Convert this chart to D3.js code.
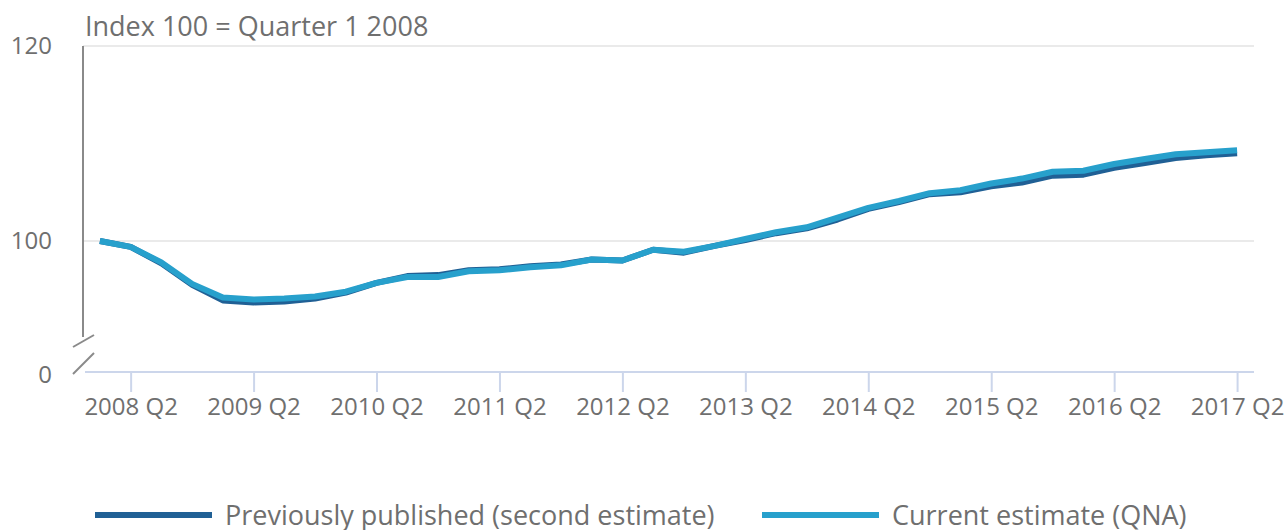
<!DOCTYPE html>
<html lang="en">
<head>
    <meta charset="UTF-8">
    <title>Index 100 = Quarter 1 2008</title>
    <script src="https://d3js.org/d3.v7.min.js"></script>
    <style>
        body { margin: 0; background: #fff; font-family: "Open Sans", sans-serif; }
        svg text { fill: #6f6f6f; }
    </style>
</head>
<body>
<svg id="chart" width="1288" height="530"></svg>
<script>
    const quarters = [];
    for (let yr = 2008; yr <= 2017; yr++) {
        ["Q1", "Q2", "Q3", "Q4"].forEach(q => quarters.push(`${yr} ${q}`));
    }
    quarters.splice(quarters.indexOf("2017 Q2") + 1);

    const previous = [
        100.0, 99.4, 97.7, 95.5,
        93.9, 93.7, 93.8, 94.1,
        94.7, 95.7, 96.4, 96.5,
        97.0, 97.1, 97.4, 97.6,
        98.1, 98.0, 99.1, 98.8,
        99.5, 100.1, 100.8, 101.3,
        102.2, 103.3, 104.0, 104.8,
        105.0, 105.6, 106.0, 106.7,
        106.8, 107.5, 108.0, 108.5,
        108.8, 109.0
    ];
    const current = [
        100.0, 99.4, 97.8, 95.6,
        94.2, 94.0, 94.1, 94.3,
        94.8, 95.7, 96.3, 96.3,
        96.9, 97.0, 97.3, 97.5,
        98.1, 98.0, 99.1, 98.9,
        99.5, 100.2, 100.9, 101.4,
        102.4, 103.4, 104.1, 104.9,
        105.2, 105.9, 106.4, 107.1,
        107.2, 107.9, 108.4, 108.9,
        109.1, 109.3
    ];
    const tickLabels = ["2008 Q2", "2009 Q2", "2010 Q2", "2011 Q2", "2012 Q2",
                        "2013 Q2", "2014 Q2", "2015 Q2", "2016 Q2", "2017 Q2"];
    const yTicks = [0, 100, 120];
    const seriesNames = ["Previously published (second estimate)", "Current estimate (QNA)"];
    const seriesColors = ["#206095", "#27a0cc"];

    const plot = { left: 83, right: 1254, top: 46, bottom: 372 };
    const breakValue = 86.56; // axis is broken between 0 and this

    const svg = d3.select("#chart");

    const x = d3.scalePoint().domain(quarters).range([plot.left, plot.right]).padding(0.55);
    const y = d3.scaleLinear().domain([0, breakValue, 120]).range([plot.bottom, plot.bottom, plot.top]);

    // gridlines
    svg.append("g")
        .selectAll("line")
        .data([100, 120])
        .enter().append("line")
        .attr("x1", plot.left).attr("x2", plot.right)
        .attr("y1", d => y(d)).attr("y2", d => y(d))
        .attr("stroke", "#e3e3e3").attr("stroke-width", 1.5);

    // y axis labels
    const yAxis = svg.append("g")
        .attr("transform", `translate(${plot.left},0)`)
        .call(d3.axisLeft(y).tickValues(yTicks).tickSize(0).tickPadding(31));
    yAxis.select(".domain").remove();
    yAxis.selectAll("text")
        .attr("font-family", "Open Sans").attr("font-size", "24px").style("fill", "#6f6f6f");
    yAxis.selectAll("text").filter(d => d === 0).attr("dy", "0.45em");

    // y axis line with break marks
    svg.append("line")
        .attr("x1", plot.left).attr("x2", plot.left)
        .attr("y1", plot.top).attr("y2", 337)
        .attr("stroke", "#8a8a8a").attr("stroke-width", 2);
    [[73, 347, 94, 335], [73, 374, 94, 353]].forEach(s => {
        svg.append("line")
            .attr("x1", s[0]).attr("y1", s[1]).attr("x2", s[2]).attr("y2", s[3])
            .attr("stroke", "#8a8a8a").attr("stroke-width", 2);
    });

    // x axis
    const xAxis = svg.append("g")
        .attr("transform", `translate(0,${plot.bottom})`)
        .call(d3.axisBottom(x).tickValues(tickLabels).tickSize(20).tickPadding(6).tickSizeOuter(0));
    xAxis.select(".domain")
        .attr("d", `M${plot.left + 2},0H${plot.right}`)
        .attr("stroke", "#ccd6eb").attr("stroke-width", 2);
    xAxis.selectAll(".tick line").attr("stroke", "#ccd6eb").attr("stroke-width", 2);
    xAxis.selectAll("text")
        .attr("font-family", "Open Sans").attr("font-size", "24px").style("fill", "#6f6f6f");

    // title
    svg.append("text")
        .attr("x", 85).attr("y", 36)
        .attr("font-family", "Open Sans").attr("font-size", "27px")
        .text("Index 100 = Quarter 1 2008");

    // lines
    const line = d3.line()
        .x((d, i) => x(quarters[i]))
        .y(d => y(d));

    [previous, current].forEach((series, i) => {
        svg.append("path")
            .datum(series)
            .attr("fill", "none")
            .attr("stroke", seriesColors[i])
            .attr("stroke-width", 6)
            .attr("stroke-linejoin", "round")
            .attr("d", line);
    });

    // legend (bottom edge clips the descenders, as in the source image)
    const legendX = [95, 762];
    seriesNames.forEach((name, i) => {
        const g = svg.append("g").attr("transform", `translate(${legendX[i]},515)`);
        g.append("line")
            .attr("x1", 0).attr("x2", 117)
            .attr("stroke", seriesColors[i]).attr("stroke-width", 6);
        g.append("text")
            .attr("x", 130).attr("dy", "0.38em")
            .attr("font-family", "Open Sans").attr("font-size", "27px")
            .text(name);
    });
</script>
</body>
</html>
